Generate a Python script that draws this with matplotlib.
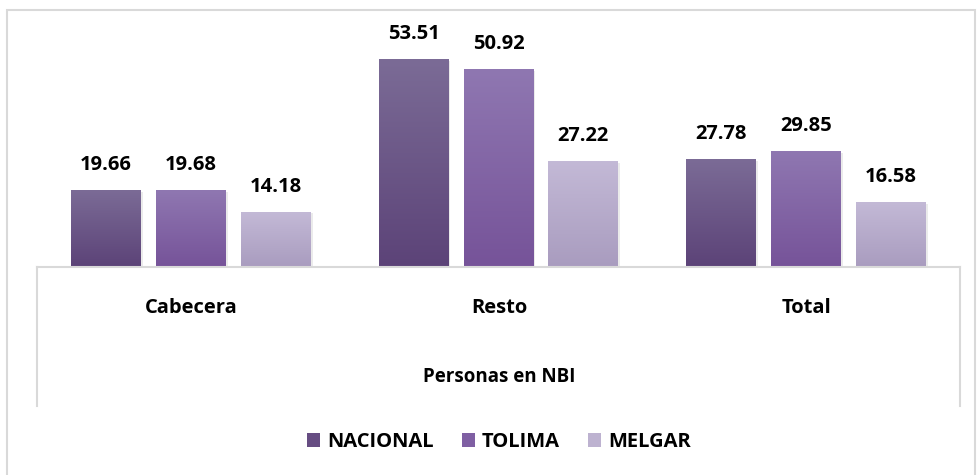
import numpy as np
import matplotlib.pyplot as plt
from matplotlib.colors import LinearSegmentedColormap
from matplotlib.patches import Rectangle
from matplotlib.lines import Line2D

categories = ['Cabecera', 'Resto', 'Total']
series = ['NACIONAL', 'TOLIMA', 'MELGAR']
nacional = [19.66, 53.51, 27.78]
tolima = [19.68, 50.92, 29.85]
melgar = [14.18, 27.22, 16.58]
axis_title = 'Personas en NBI'

values = [nacional, tolima, melgar]
# gradient (top, bottom) for each series
grads = [('#7b6b96', '#5c4378'), ('#8f77b1', '#765399'), ('#c3b9d6', '#a99cbf')]
legend_cols = ['#664d82', '#7f5fa3', '#bdb2d0']

plt.rcParams['font.family'] = ['Open Sans', 'DejaVu Sans']
plt.rcParams['font.weight'] = 'bold'

W, H = 978, 475
fig = plt.figure(figsize=(W / 100, H / 100), dpi=100)

# outer chart border
fig.patches.append(Rectangle((7 / W, -0.01), 968 / W, 1 - 10 / H + 0.01,
                             transform=fig.transFigure, fill=False,
                             edgecolor='#d9d9d9', linewidth=1.5))

x0, x1, base, top = 37, 960, 267, 20
ax = fig.add_axes([x0 / W, 1 - base / H, (x1 - x0) / W, (base - top) / H])
ax.axis('off')

bw = 70 / 308
step = 85 / 308
x = np.arange(len(categories))
for i, (vals, (ctop, cbot)) in enumerate(zip(values, grads)):
    cmap = LinearSegmentedColormap.from_list('g%d' % i, [cbot, ctop])
    for xc, v in zip(x + (i - 1) * step, vals):
        # soft shadow
        ax.add_patch(Rectangle((xc - bw / 2 + 0.006, 0), bw, v - 0.3,
                               facecolor='#000000', alpha=0.08, linewidth=0, zorder=1))
        grad = np.linspace(0, 1, 100).reshape(-1, 1)
        ax.imshow(grad, cmap=cmap, origin='lower', aspect='auto',
                  extent=(xc - bw / 2, xc + bw / 2, 0, v), zorder=2)
        ax.text(xc, v + 4.0, f'{v:.2f}', ha='center', va='bottom',
                fontsize=14.5, fontweight='bold', color='#000000')
ax.set_xlim(-0.5, 2.5)
ax.set_ylim(0, (base - top) / 3.87)

# category axis box
line_c = '#d9d9d9'
fig.add_artist(Line2D([x0 / W, x1 / W], [1 - base / H] * 2, color=line_c, lw=1.5))
fig.add_artist(Line2D([x0 / W] * 2, [1 - base / H, 1 - 406 / H], color=line_c, lw=1.5))
fig.add_artist(Line2D([x1 / W] * 2, [1 - base / H, 1 - 406 / H], color=line_c, lw=1.5))

for i, c in enumerate(categories):
    xc = (x0 + 154 + 308 * i) / W
    fig.text(xc, 1 - 308 / H, c, ha='center', va='center', fontsize=14.5, fontweight='bold')
fig.text(499 / W, 1 - 377 / H, axis_title, ha='center', va='center',
         fontsize=13.5, fontweight='bold')

handles = [Rectangle((0, 0), 1, 1, facecolor=c) for c in legend_cols]
fig.legend(handles, series, loc='center', bbox_to_anchor=(499 / W, 1 - 442 / H),
           ncol=3, frameon=False, handlelength=0.65, handleheight=0.65,
           handletextpad=0.35, columnspacing=1.4,
           prop={'weight': 'bold', 'size': 14.5})

fig.savefig('out.png', dpi=100)
